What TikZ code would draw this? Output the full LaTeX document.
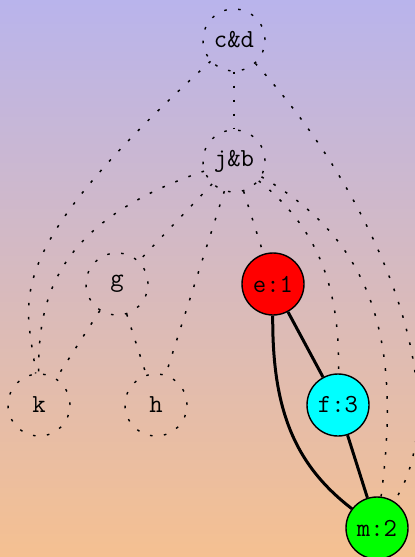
\documentclass[tikz,border=0pt]{standalone}
\usepackage{tikz}
\definecolor{bgtop}{RGB}{185,180,236}
\definecolor{bgbot}{RGB}{245,192,145}
\definecolor{fillred}{RGB}{255,0,0}
\definecolor{fillcyan}{RGB}{0,255,255}
\definecolor{fillgreen}{RGB}{0,255,0}

\begin{document}
\begin{tikzpicture}[x=0.5pt,y=-0.5pt,
  vtx/.style={circle,minimum size=31pt,inner sep=0pt,font=\ttfamily\fontsize{13}{15}\selectfont},
  open/.style={vtx,draw,line width=0.7pt,dash pattern=on 1.3pt off 5.7pt},
  filled/.style={vtx,draw,line width=0.7pt},
  dotedge/.style={line width=0.75pt,dash pattern=on 1.3pt off 5.7pt},
  boldedge/.style={line width=1.5pt}]
\shade[top color=bgtop,bottom color=bgbot] (0,0) rectangle (415,557);
\useasboundingbox (0,0) rectangle (415,557);
% nodes
\node[open] (cd) at (234,40) {c\&d};
\node[open] (jb) at (234,161) {j\&b};
\node[open] (g) at (117,284) {g};
\node[filled,fill=fillred] (e1) at (273,284) {e:1};
\node[open] (k) at (39,405) {k};
\node[open] (h) at (156,405) {h};
\node[filled,fill=fillcyan] (f3) at (338,405) {f:3};
\node[filled,fill=fillgreen] (m2) at (377,528) {m:2};
% dotted edges
\draw[dotedge] (cd) -- (jb);
\draw[dotedge] (cd) .. controls (-9,261) and (28,300) .. (k);
\draw[dotedge] (cd) .. controls (380,200) and (460,400) .. (m2);
\draw[dotedge] (jb) .. controls (54,222) and (38,300) .. (k);
\draw[dotedge] (jb) -- (g);
\draw[dotedge] (jb) -- (h);
\draw[dotedge] (jb) -- (e1);
\draw[dotedge] (jb) .. controls (320,230) and (340,290) .. (f3);
\draw[dotedge] (jb) .. controls (380,245) and (400,350) .. (m2);
\draw[dotedge] (g) -- (k);
\draw[dotedge] (g) -- (h);
% solid edges
\draw[boldedge] (e1) -- (f3);
\draw[boldedge] (e1) .. controls (272,410) and (295,465) .. (m2);
\draw[boldedge] (f3) -- (m2);
\end{tikzpicture}
\end{document}
